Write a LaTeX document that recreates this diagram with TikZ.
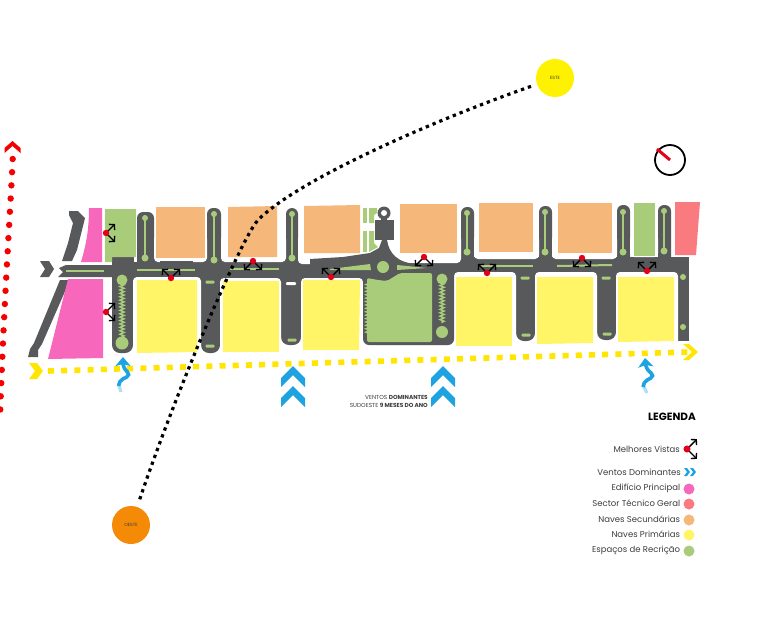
\documentclass[tikz,border=0pt]{standalone}
\usepackage{fontspec}
\setmainfont{Poppins}
\usepackage{xcolor}
\usetikzlibrary{arrows.meta,positioning,decorations.pathmorphing}
\definecolor{roadgrey}{HTML}{58595B}
\definecolor{parkgreen}{HTML}{A9CC7A}
\definecolor{naveorange}{HTML}{F6B87A}
\definecolor{naveyellow}{HTML}{FFF566}
\definecolor{mainpink}{HTML}{F768BC}
\definecolor{techred}{HTML}{F97B80}
\definecolor{windblue}{HTML}{1CA3E0}
\definecolor{viewred}{HTML}{E2001A}
\definecolor{accessred}{HTML}{F50000}
\definecolor{lineyellow}{HTML}{FFE500}
\definecolor{sunorange}{HTML}{F58A07}
\definecolor{sunyellow}{HTML}{FFF200}
\definecolor{labelgrey}{HTML}{3C3C3C}

\begin{document}
\begin{tikzpicture}[
        x=1pt, y=-1pt,
        road/.style={fill=roadgrey},
        notch/.style={fill=white, rounded corners=4pt},
        park/.style={fill=parkgreen},
        walkway/.style={draw=parkgreen, line width=1.3pt},
        zigwalk/.style={draw=parkgreen, line width=1.5pt, decorate, decoration={zigzag, amplitude=2pt, segment length=3.4pt}},
        blob/.style={fill=parkgreen},
        sun/.style={circle, minimum size=38pt, inner sep=0pt, font=\fontsize{4.5}{5}\selectfont, text=labelgrey},
        sunpath/.style={line width=3.2pt, dash pattern=on 3.3pt off 4pt},
        redline/.style={draw=accessred, line width=6.4pt, line cap=round, dash pattern=on 0pt off 13.2pt},
        yellowline/.style={draw=lineyellow, line width=5.6pt, dash pattern=on 6pt off 7.2pt},
        windarrow/.style={draw=windblue, line width=3.6pt, rounded corners=5pt, -{Stealth[length=9pt,width=15pt,inset=2pt]}},
        windtail/.style={draw=windblue!35, line width=3.2pt},
        legtext/.style={font=\fontsize{8.5}{9}\selectfont, text=labelgrey, inner sep=0pt},
        legdot/.style={circle, minimum size=11pt, inner sep=0pt},
        vista/.pic={
            \draw[-{Straight Barb[length=3.6pt,width=8pt]}, line width=1.4pt] (0,0) -- (9,-9);
            \draw[-{Straight Barb[length=3.6pt,width=8pt]}, line width=1.4pt] (0,0) -- (9,9);
            \fill[viewred] (0,0) circle (3.2pt);
        },
        pics/chev/.style n args={3}{code={
            \path[pic actions] (0,0) -- (-#1,-#2) -- (-#1-#3,-#2) -- (-#3,0) -- (-#1-#3,#2) -- (-#1,#2) -- cycle;
        }}
    ]
    \useasboundingbox (0,0) rectangle (768,619);

    % streets
    \foreach \xa/\xb/\ytop in {137/154/212, 207/221/208, 286/298/208, 461/474/207, 539/552/206, 617/630/205, 658/671/205}
        \fill[road, rounded corners=6pt] (\xa,\ytop) rectangle (\xb,270);
    \foreach \xa/\xb/\ybot in {112/133/353, 201/220/353, 281/301/345, 516/535/341, 597/616/340}
        \fill[road, rounded corners=8pt] (\xa,265) rectangle (\xb,\ybot);
    \fill[road] (678,262) rectangle (689,341);
    \fill[road] (112,257) rectangle (689,285);
    \foreach \xa/\xb/\ytop in {154/207/262, 221/286/262, 298/368/264, 395/461/263, 474/539/259, 552/617/259, 630/658/257}
        \fill[notch] (\xa,235) rectangle (\xb,\ytop);
    \foreach \xa/\xb/\ytop in {133/201/277, 220/281/278, 301/363/278, 454/516/272, 535/597/272, 616/678/272}
        \fill[notch] (\xa,\ytop) rectangle (\xb,362);
    \fill[white] (133.5,250) rectangle (137,262);
    \fill[white] (689,250) rectangle (700,290);
    \fill[road, rounded corners=6pt] (363,265) rectangle (454,345);
    \fill[road] (310,264) -- (310,259) -- (343,257) -- (370,253) -- (379,248) -- (382,240) -- (387,240)
        .. controls (389,253) and (397,263) .. (417,264) -- (417,270) -- (310,270) -- cycle;
    \fill[road] (160,264) rectangle (193,261);
    \fill[road] (66,265) -- (112,265) -- (112,277) -- (66,277) -- (58,277) -- (63,272) -- (59,268) -- cycle;
    \fill[road] (69,211) -- (78,211) -- (85,218) -- (77,250) -- (72,261) -- (62,261) -- (68,243) -- (73,223) -- (69,215) -- cycle;
    \fill[road] (60,280) -- (70,280) -- (42,344) -- (38,350) -- (38,357) -- (28,357) -- (30,349) -- (34,343) -- cycle;
    \pic[road] (entrada) at (54,269) {chev={5}{8}{9}};

    % central building
    \fill[road] (375,220) rectangle (394,240);
    \fill[road] (384,213) circle (6.5pt);
    \fill[white] (384,213) circle (3pt);
    \fill[road] (381,218) rectangle (387,222);

    % buildings
    \fill[naveorange] (156,207) -- (205,207) -- (205,258) -- (156,258) -- cycle;
    \fill[naveorange] (228,207) -- (277,206) -- (277,257) -- (228,257) -- cycle;
    \fill[naveorange] (304,206) -- (360,205) -- (360,253) -- (304,253) -- cycle;
    \fill[naveorange] (400,204) -- (457,204) -- (457,253) -- (400,253) -- cycle;
    \fill[naveorange] (479,203) -- (533,203) -- (533,252) -- (479,252) -- cycle;
    \fill[naveorange] (558,203) -- (612,203) -- (612,253) -- (558,253) -- cycle;
    \fill[naveyellow] (137,280) -- (197,280) -- (197,352) -- (137,353) -- cycle;
    \fill[naveyellow] (223,281) -- (279,281) -- (279,352) -- (223,352) -- cycle;
    \fill[naveyellow] (303,280) -- (360,280) -- (359,350) -- (303,350) -- cycle;
    \fill[naveyellow] (456,277) -- (512,277) -- (512,346) -- (456,346) -- cycle;
    \fill[naveyellow] (537,277) -- (593,277) -- (593,343) -- (537,344) -- cycle;
    \fill[naveyellow] (618,277) -- (674,277) -- (674,341) -- (618,342) -- cycle;
    \fill[mainpink] (89,208) -- (102,208) -- (102,262) -- (81,262) .. controls (86,245) and (89,230) .. cycle;
    \fill[mainpink] (68,279) -- (103,279) -- (103,358) -- (48,359) -- cycle;
    \fill[techred] (675,202) -- (700,202) -- (696,255) -- (675,255) -- cycle;
    \fill[park] (105,209) -- (136,209) -- (136,257) -- (112,257) -- (112,262) -- (105,262) -- cycle;
    \fill[park] (634,203) -- (655,203) -- (655,256) -- (634,256) -- cycle;

    % green areas
    \fill[park, rounded corners=2pt] (367,278) -- (378,280) -- (387,281) -- (400,273) -- (432,273) -- (432,342) -- (367,342) -- cycle;
    \draw[zigwalk] (368,282) -- (368,336);
    \fill[park] (363,208) rectangle (367,223);
    \fill[park] (369,208) -- (377,208) -- (377,213) -- (374,215) -- (374,223) -- (369,223) -- cycle;
    \fill[park] (363,231) rectangle (367,252);
    \fill[park] (369,231) -- (374,231) -- (374,243) -- (378,247) -- (369,252) -- cycle;
    \fill[park] (383,267) circle (6pt);
    \fill[park] (330,269) -- (370,264) -- (371,270) -- (330,270) -- cycle;
    \fill[park] (397,265) -- (427,268) -- (397,270) -- cycle;

    \foreach \xc/\ya/\yb in {145/218/258, 214/214/260, 292/214/258, 467/213/252, 545/212/252, 623/212/252, 664/211/251} {
        \draw[walkway] (\xc,\ya) -- (\xc,\yb);
        \fill[blob] (\xc,\ya) circle (3pt);
        \fill[blob] (\xc,\yb) circle (3.5pt);
    }
    \foreach \xa/\ya/\xb/\yb in {66/271/104/271, 137/270/195/270, 230/269/279/269, 480/266/533/266, 557/266/612/265}
        \draw[walkway, line width=2pt] (\xa,\ya) -- (\xb,\yb);
    \foreach \xc/\yc in {210/282, 210/346, 292/340, 525/278, 526/335, 606/278, 607/334}
        \fill[park, rounded corners=1pt] (\xc-4.5,\yc-1.5) rectangle (\xc+4.5,\yc+1.5);
    \fill[white, rounded corners=1pt] (286,282) rectangle (296,285);
    \foreach \xc/\yc in {683/277, 683/327}
        \fill[park] (\xc,\yc) circle (3pt);
    \draw[zigwalk] (122,284) -- (122,337);
    \draw[zigwalk] (442,283) -- (442,323);
    \foreach \xc/\yc/\rad in {122/280/5.5, 122/343/6.5, 442/279/5.5, 442/332/6}
        \fill[blob] (\xc,\yc) circle (\rad pt);

    % best views
    \pic at (106,233) {vista};
    \pic at (106,312) {vista};
    \pic[rotate=90] at (171,278) {vista};
    \pic[rotate=-90] at (253,261) {vista};
    \pic[rotate=90] at (331,277) {vista};
    \pic[rotate=-90] at (424,257) {vista};
    \pic[rotate=90] at (487,273) {vista};
    \pic[rotate=-90] at (582,258) {vista};
    \pic[rotate=90] at (647,271) {vista};

    % yellow access line
    \coordinate (yellowstart) at (48,371);
    \coordinate (yellowend) at (689,352);
    \draw[yellowline] (yellowstart) -- (yellowend);
    \pic[fill=lineyellow] at (43,371) {chev={6}{8}{8}};
    \pic[fill=lineyellow] at (698,352) {chev={9}{8}{6}};

    % red access line
    \coordinate (redtop) at (12.7,159);
    \coordinate (redbottom) at (0,417);
    \draw[redline] (redtop) .. controls (11,200) and (4,300) .. (redbottom);
    \pic[fill=accessred, rotate=90] at (12.5,141) {chev={7}{8}{5}};

    % sun
    \node[sun, fill=sunyellow] (este) at (555,78) {ESTE};
    \node[sun, fill=sunorange] (oeste) at (131,525) {OESTE};
    \coordinate (zenit) at (258,220);
    \draw[sunpath, shorten <=8pt, shorten >=4pt] (oeste) .. controls (175,395) and (240,240) .. (zenit)
        .. controls (300,178) and (440,118) .. (este);

    % winds
    \foreach \xc in {293, 443} {
        \pic[fill=windblue, rotate=90] at (\xc,366) {chev={12}{12}{9}};
        \pic[fill=windblue, rotate=90] at (\xc,386) {chev={12}{12}{9}};
    }
    \coordinate (brisatail) at (121,392);
    \coordinate (brisahead) at (123,357);
    \draw[windtail] (brisatail) -- (118.5,384);
    \draw[windarrow] (118.5,386) -- (118.5,381) -- (131,375) -- (123,368) -- (brisahead);
    \coordinate (aragemtail) at (647,393);
    \coordinate (aragemhead) at (645,358);
    \draw[windtail] (aragemtail) -- (643,385);
    \draw[windarrow] (643,387) -- (643,382) -- (655,376) -- (646,369) -- (aragemhead);

    \node[anchor=east, inner sep=0pt, align=right, font=\fontsize{5.8}{8}\selectfont, text=labelgrey] (ventos) at (428,401)
        {VENTOS \textbf{DOMINANTES}\\SUDOESTE \textbf{9 MESES DO ANO}};

    % compass
    \node[circle, draw, line width=1.8pt, minimum size=30pt, inner sep=0pt] (bussola) at (670,160) {};
    \coordinate (norte) at (657,149);
    \draw[draw=viewred, line width=3pt] (norte) -- (bussola.center);

    % legend
    \node[anchor=east, inner sep=0pt, font=\fontsize{10.5}{11}\selectfont\bfseries, text=black] (legenda) at (696,417) {LEGENDA};
    \node[legdot, fill=mainpink] (dotmain) at (689,489) {};
    \node[legdot, fill=techred] (dottech) at (689,504) {};
    \node[legdot, fill=naveorange] (dotsec) at (689,520) {};
    \node[legdot, fill=naveyellow] (dotprim) at (689,535) {};
    \node[legdot, fill=parkgreen] (dotpark) at (689,551) {};
    \coordinate (keyview) at (687,449);
    \pic[scale=1.1] at (keyview) {vista};
    \pic[fill=windblue] at (690,472) {chev={3}{4}{3}};
    \pic[fill=windblue] at (696,472) {chev={3}{4}{3}};
    \node[legtext, anchor=east] (txtview) at (680,449) {Melhores Vistas};
    \node[legtext, anchor=east] (txtwind) at (681,472) {Ventos Dominantes};
    \node[legtext, left=3pt of dotmain.west, yshift=1pt] (txtmain) {Edifício Principal};
    \node[legtext, left=3pt of dottech.west, yshift=1pt] (txttech) {Sector Técnico Geral};
    \node[legtext, left=3pt of dotsec.west, yshift=1pt] (txtsec) {Naves Secundárias};
    \node[legtext, left=3pt of dotprim.west, yshift=1pt] (txtprim) {Naves Primárias};
    \node[legtext, left=3pt of dotpark.west, yshift=1pt] (txtpark) {Espaços de Recrição};
\end{tikzpicture}
\end{document}
